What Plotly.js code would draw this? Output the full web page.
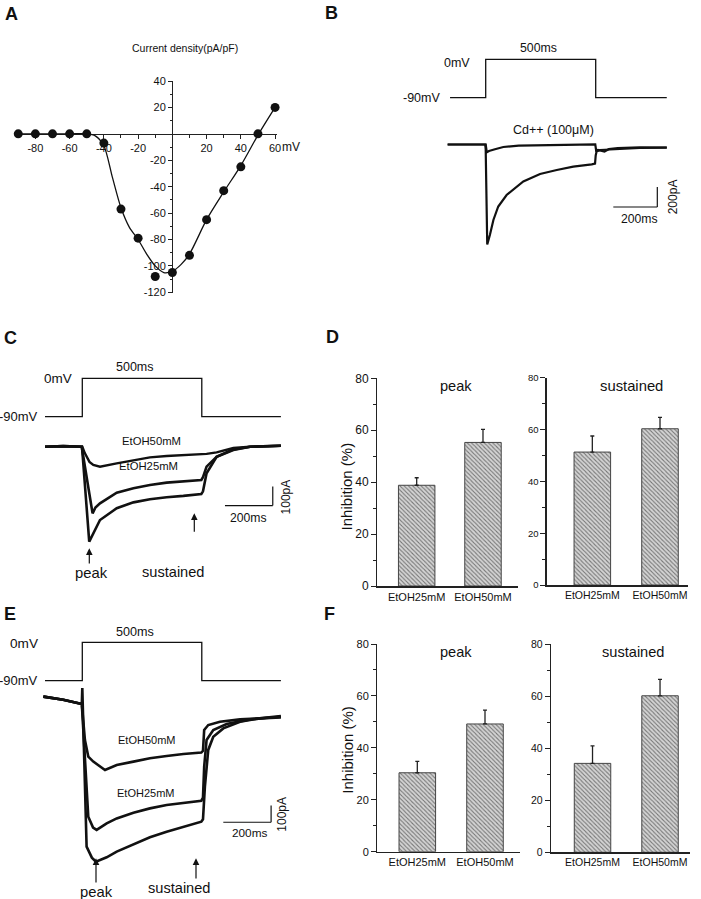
<!DOCTYPE html>
<html>
<head>
<meta charset="utf-8">
<script src="https://cdn.plot.ly/plotly-3.0.1.min.js"></script>
<style>html,body{margin:0;padding:0;background:#fff;}#chart{width:701px;height:899px;}</style>
</head>
<body>
<div id="chart"></div>
<script>
// ---------------- DATA ----------------
// Panel A: I-V relationship
const ivVoltage = [-90,-80,-70,-60,-50,-40,-30,-20,-10,0,10,20,30,40,50,60];
const ivDensity = [0,0,0,0,0,-7,-57,-79,-108,-105,-92,-65,-43,-25,0,20];
const fitVoltage = [-90,-60,-50,-45,-40,-35,-30,-25,-20,-15,-10,-5,0,5,10,20,30,40,50,60];
const fitDensity = [0,0,0,-1.5,-9,-33,-56,-71,-80,-91,-100,-105,-104,-99,-91,-65,-44,-24,-1,20];
const xTickVals = [-80,-60,-40,-20,20,40,60];
const yTickVals = [40,20,-20,-40,-60,-80,-100,-120];

// Voltage protocols (ms, mV)
const stepTimeB = [-162,0,0,500,500,823];
const stepVolt = [-90,-90,0,0,-90,-90];
const stepTimeCE = [-156,0,0,500,500,831];

// Panel B currents (ms, pA)
const ctrlTimeB = [-173,-50,-2,0,7,19,35,57,95,171,247,323,398,482,497,500,504,520,600,700,823];
const ctrlCurB  = [0,5,0,-50,-1000,-905,-755,-620,-505,-370,-295,-255,-222,-198,-190,-110,-70,-55,-45,-35,-32];
const cdTimeB = [-173,-50,0,5,15,42,80,150,300,450,498,502,510,540,560,600,700,823];
const cdCurB  = [0,5,0,-78,-65,-48,-25,-12,-5,0,2,-60,-55,-70,-45,-35,-28,-30];

// Panel C currents
const ctrlTimeC = [-156,-80,-2,0,29,46,74,144,214,283,353,423,498,505,520,562,632,702,780,831];
const ctrlCurC  = [0,3,0,-20,-500,-456,-386,-324,-293,-277,-266,-259,-249,-235,-140,-53,-14,0,5,5];
const e25TimeC = [-156,-80,-2,0,43,55,74,144,214,283,353,423,498,505,520,562,632,702,780,831];
const e25CurC  = [0,3,0,-20,-351,-320,-298,-242,-219,-202,-189,-184,-175,-160,-105,-53,-17,0,5,5];
const e50TimeC = [-156,-80,-2,0,11,30,46,74,144,214,283,353,423,498,520,562,632,702,780,831];
const e50CurC  = [0,3,0,0,-35,-80,-96,-105,-88,-70,-56,-49,-46,-40,-38,-30,-7,0,5,5];

// Panel E currents
const ctrlTimeE = [-163,-80,-2,0,18,40,57,102,144,214,283,353,423,498,505,513,527,548,590,660,743,831];
const ctrlCurE  = [44,25,0,96,-854,-920,-944,-918,-884,-840,-798,-765,-735,-705,-690,-495,-275,-196,-146,-106,-86,-72];
const e25TimeE = [-163,-80,-2,25,45,60,102,144,214,283,353,423,498,505,510,520,548,604,702,831];
const e25CurE  = [44,25,0,-675,-740,-754,-715,-685,-651,-625,-605,-591,-579,-560,-375,-216,-156,-120,-92,-76];
const e50TimeE = [-163,-80,-2,11,25,46,95,144,214,283,353,423,498,505,510,527,576,660,831];
const e50CurE  = [44,25,0,-216,-315,-345,-395,-365,-345,-325,-311,-299,-291,-280,-156,-126,-106,-92,-80];

// Panels D and F: inhibition (%)
const groups = ['EtOH25mM','EtOH50mM'];
const dPeak = [38.8, 55.3], dPeakErr = [2.9, 5.0];
const dSust = [51.3, 60.3], dSustErr = [6.2, 4.4];
const fPeak = [30.4, 49.2], fPeakErr = [4.4, 5.3];
const fSust = [34.2, 60.2], fSustErr = [6.7, 6.3];
const barTicks = [0, 80, 20];

// ---------------- HELPERS ----------------
const W = 701, H = 899;
const FONT = 'Liberation Sans, Arial, Helvetica, sans-serif';
const INK = '#111';
const xd = (a,b) => [a/W, b/W];
const yd = (top,bottom) => [1-bottom/H, 1-top/H];
const hidden = (o) => Object.assign({visible:false, fixedrange:true}, o);

function ann(text, px, py, size, extra) {
  return Object.assign({text:text, x:px/W, y:1-py/H, xref:'paper', yref:'paper', showarrow:false,
    font:{family:FONT, size:size, color:INK}, xanchor:'center', yanchor:'middle'}, extra||{});
}
function arrow(px, tipY, tailY) {
  return {text:'', x:px/W, y:1-tipY/H, xref:'paper', yref:'paper', showarrow:true,
    ax:0, ay:tailY-tipY, arrowhead:2, arrowsize:1.1, arrowwidth:1.2, arrowcolor:INK};
}
function line(x, y, xa, ya, w) {
  return {x:x, y:y, xaxis:xa, yaxis:ya, type:'scatter', mode:'lines',
    line:{color:INK, width:w}, hoverinfo:'skip', cliponaxis:false};
}
function bars(vals, errs, xa, ya, width) {
  return {x:[0,1], y:vals, xaxis:xa, yaxis:ya, type:'bar', width:width, hoverinfo:'skip',
    marker:{color:'#d2d2d2', line:{color:'#444', width:1},
      pattern:{shape:'\\', size:3, solidity:0.35, fgcolor:'#777', bgcolor:'#d4d4d4'}},
    error_y:{type:'data', symmetric:false, array:errs, arrayminus:[0,0], width:2, thickness:1.3, color:'#222'}};
}
function barX(dom, range, fs) {
  return {domain:dom, range:range, tickvals:[0,1], ticktext:groups, ticks:'', showline:true,
    linecolor:'#222', linewidth:1.5, showgrid:false, zeroline:false, fixedrange:true,
    tickfont:{family:FONT, size:fs, color:INK}};
}
function barY(dom, fs) {
  const vals = []; for (let v = barTicks[0]; v <= barTicks[1]; v += barTicks[2]) vals.push(v);
  const minors = vals.slice(0,-1).map(v => v + barTicks[2]/2);
  return {domain:dom, range:[barTicks[0], barTicks[1]], tickvals:vals, ticks:'outside', ticklen:5,
    tickwidth:1, tickcolor:'#222', showline:true, linecolor:'#222', linewidth:1.3, showgrid:false,
    zeroline:false, fixedrange:true, tickfont:{family:FONT, size:fs, color:INK},
    minor:{tickmode:'array', tickvals:minors, ticks:'outside', ticklen:3, tickcolor:'#222', showgrid:false}};
}

// ---------------- TRACES ----------------
const traces = [
  // A
  {x:fitVoltage, y:fitDensity, type:'scatter', mode:'lines', line:{color:INK, width:1.3, shape:'spline', smoothing:0.8},
   xaxis:'x', yaxis:'y', hoverinfo:'skip', cliponaxis:false},
  {x:ivVoltage, y:ivDensity, type:'scatter', mode:'markers', marker:{color:INK, size:9},
   xaxis:'x', yaxis:'y', hoverinfo:'skip', cliponaxis:false},
  // B
  line(stepTimeB, stepVolt, 'x2', 'y2', 1.3),
  line(cdTimeB, cdCurB, 'x2', 'y3', 2.2),
  line(ctrlTimeB, ctrlCurB, 'x2', 'y3', 2.2),
  // C
  line(stepTimeCE, stepVolt, 'x3', 'y4', 1.3),
  line(ctrlTimeC, ctrlCurC, 'x3', 'y5', 2.6),
  line(e25TimeC, e25CurC, 'x3', 'y5', 2.6),
  line(e50TimeC, e50CurC, 'x3', 'y5', 2.4),
  // E
  line(stepTimeCE, stepVolt, 'x4', 'y6', 1.3),
  line(ctrlTimeE, ctrlCurE, 'x4', 'y7', 2.6),
  line(e25TimeE, e25CurE, 'x4', 'y7', 2.6),
  line(e50TimeE, e50CurE, 'x4', 'y7', 2.6),
  // D, F
  bars(dPeak, dPeakErr, 'x5', 'y8', 0.55),
  bars(dSust, dSustErr, 'x6', 'y9', 0.54),
  bars(fPeak, fPeakErr, 'x7', 'y10', 0.54),
  bars(fSust, fSustErr, 'x8', 'y11', 0.54)
];

// ---------------- LAYOUT ----------------
const layout = {
  width:W, height:H, margin:{l:0, r:0, t:0, b:0}, paper_bgcolor:'#fff', plot_bgcolor:'rgba(0,0,0,0)',
  showlegend:false, bargap:0,
  font:{family:FONT, color:INK},
  // A
  xaxis:{domain:xd(15,277.3), range:[-91.9,61.3], anchor:'free', position:1-134/H, showline:true,
    linecolor:'#222', linewidth:1.2, ticks:'outside', ticklen:4, tickcolor:'#222', tickvals:xTickVals,
    ticktext:xTickVals.map(String), tickfont:{family:FONT, size:11, color:INK}, showgrid:false,
    zeroline:false, fixedrange:true, layer:'below traces',
    minor:{tickmode:'array', tickvals:[-90,-70,-50,-30,-10,10,30,50], ticks:'outside', ticklen:2.5, tickcolor:'#222', showgrid:false}},
  yaxis:{domain:yd(81,293), range:[-120.5,40], anchor:'free', position:172/W, showline:true,
    linecolor:'#222', linewidth:1.2, ticks:'outside', ticklen:4, tickcolor:'#222', tickvals:yTickVals,
    ticktext:yTickVals.map(String), tickfont:{family:FONT, size:11, color:INK}, showgrid:false,
    zeroline:false, fixedrange:true, layer:'below traces',
    minor:{tickmode:'array', tickvals:[30,10,-10,-30,-50,-70,-90,-110], ticks:'outside', ticklen:2.5, tickcolor:'#222', showgrid:false}},
  // B
  xaxis2: hidden({domain:xd(440,690), range:[-207.7,928.6], anchor:'y2'}),
  yaxis2: hidden({domain:yd(50,105), range:[-107.1,21.8], anchor:'x2'}),
  yaxis3: hidden({domain:yd(130,255), range:[-1105,145], anchor:'x2'}),
  // C
  xaxis3: hidden({domain:xd(40,295), range:[-177,890], anchor:'y4'}),
  yaxis4: hidden({domain:yd(370,425), range:[-109.4,19.5], anchor:'x3'}),
  yaxis5: hidden({domain:yd(430,550), range:[-543.7,87.9], anchor:'x3'}),
  // E
  xaxis4: hidden({domain:xd(40,295), range:[-177,890], anchor:'y6'}),
  yaxis6: hidden({domain:yd(635,690), range:[-111.8,17.1], anchor:'x4'}),
  yaxis7: hidden({domain:yd(680,870), range:[-994,143.7], anchor:'x4'}),
  // D
  xaxis5: Object.assign(barX(xd(377.3,518), [-0.594,1.528], 11), {anchor:'y8'}),
  yaxis8: Object.assign(barY(yd(378.3,586), 12), {anchor:'x5'}),
  xaxis6: Object.assign(barX(xd(546.7,688.3), [-0.674,1.418], 10.5), {anchor:'y9'}),
  yaxis9: Object.assign(barY(yd(377.7,585), 9.5), {anchor:'x6'}),
  // F
  xaxis7: Object.assign(barX(xd(377.3,520), [-0.591,1.517], 11), {anchor:'y10'}),
  yaxis10: Object.assign(barY(yd(644,851.7), 11), {anchor:'x7'}),
  xaxis8: Object.assign(barX(xd(551,690), [-0.615,1.444], 10.5), {anchor:'y11'}),
  yaxis11: Object.assign(barY(yd(644.3,852.3), 10.5), {anchor:'x8'}),
  shapes: [
    // B scale bar
    {type:'line', xref:'x2', yref:'y3', x0:580, x1:780, y0:-625, y1:-625, line:{color:INK, width:1.2}},
    {type:'line', xref:'x2', yref:'y3', x0:780, x1:780, y0:-625, y1:-425, line:{color:INK, width:1.2}},
    // C scale bar
    {type:'line', xref:'x3', yref:'y5', x0:597, x1:797, y0:-310, y1:-310, line:{color:INK, width:1.2}},
    {type:'line', xref:'x3', yref:'y5', x0:797, x1:797, y0:-310, y1:-210, line:{color:INK, width:1.2}},
    // E scale bar
    {type:'line', xref:'x4', yref:'y7', x0:590, x1:790, y0:-708, y1:-708, line:{color:INK, width:1.2}},
    {type:'line', xref:'x4', yref:'y7', x0:790, x1:790, y0:-708, y1:-608, line:{color:INK, width:1.2}}
  ],
  annotations: [
    // panel letters
    ann('<b>A</b>', 11.7, 14, 18), ann('<b>B</b>', 331.7, 13.3, 18),
    ann('<b>C</b>', 10.3, 338, 18), ann('<b>D</b>', 332, 337.3, 18),
    ann('<b>E</b>', 9.7, 614.3, 18), ann('<b>F</b>', 329.7, 614.3, 18),
    // A
    ann('Current density(pA/pF)', 185, 47.7, 10.5),
    ann('mV', 291, 147, 12),
    // B
    ann('500ms', 538, 48.3, 12.3),
    ann('0mV', 471.7, 62.7, 12.5, {xanchor:'right'}),
    ann('-90mV', 441.7, 98.3, 12.5, {xanchor:'right'}),
    ann('Cd++ (100\u03bcM)', 553, 130, 12.5),
    ann('200ms', 639.3, 219, 12.2),
    ann('200pA', 673.3, 197, 12, {textangle:-90}),
    // C
    ann('500ms', 135, 366.7, 12.5),
    ann('0mV', 74, 378.3, 13.5, {xanchor:'right'}),
    ann('-90mV', -3, 416.7, 13, {xanchor:'left'}),
    ann('EtOH50mM', 151.7, 440.7, 11.3),
    ann('EtOH25mM', 148.3, 465.7, 11.3),
    ann('200ms', 248.3, 518.3, 12.2),
    ann('100pA', 285.7, 496.7, 12, {textangle:-90}),
    arrow(89.3, 548.3, 565), arrow(194.3, 513.3, 533.3),
    ann('peak', 91, 573.3, 14.8),
    ann('sustained', 173.3, 571.7, 14.6),
    // D
    ann('peak', 456, 386, 14.6), ann('sustained', 631, 386, 14.8),
    ann('Inhibition (%)', 346.7, 486.7, 15, {textangle:-90}),
    // E
    ann('500ms', 135, 631.7, 12.6),
    ann('0mV', 40, 643.3, 13.6, {xanchor:'right'}),
    ann('-90mV', -3, 680.7, 13, {xanchor:'left'}),
    ann('EtOH50mM', 146.7, 740, 11),
    ann('EtOH25mM', 145.7, 793.3, 11),
    ann('200ms', 250, 833.3, 11.8),
    ann('100pA', 281.7, 814, 12, {textangle:-90}),
    arrow(96, 858.3, 884), arrow(196, 858.3, 880),
    ann('peak', 96, 891.7, 14.8),
    ann('sustained', 179, 888.3, 14.6),
    // F
    ann('peak', 456, 651.7, 14.6), ann('sustained', 633.3, 651.7, 14.6),
    ann('Inhibition (%)', 346.7, 750, 15, {textangle:-90})
  ]
};

Plotly.newPlot('chart', traces, layout, {staticPlot:true, displayModeBar:false});
</script>
</body>
</html>
